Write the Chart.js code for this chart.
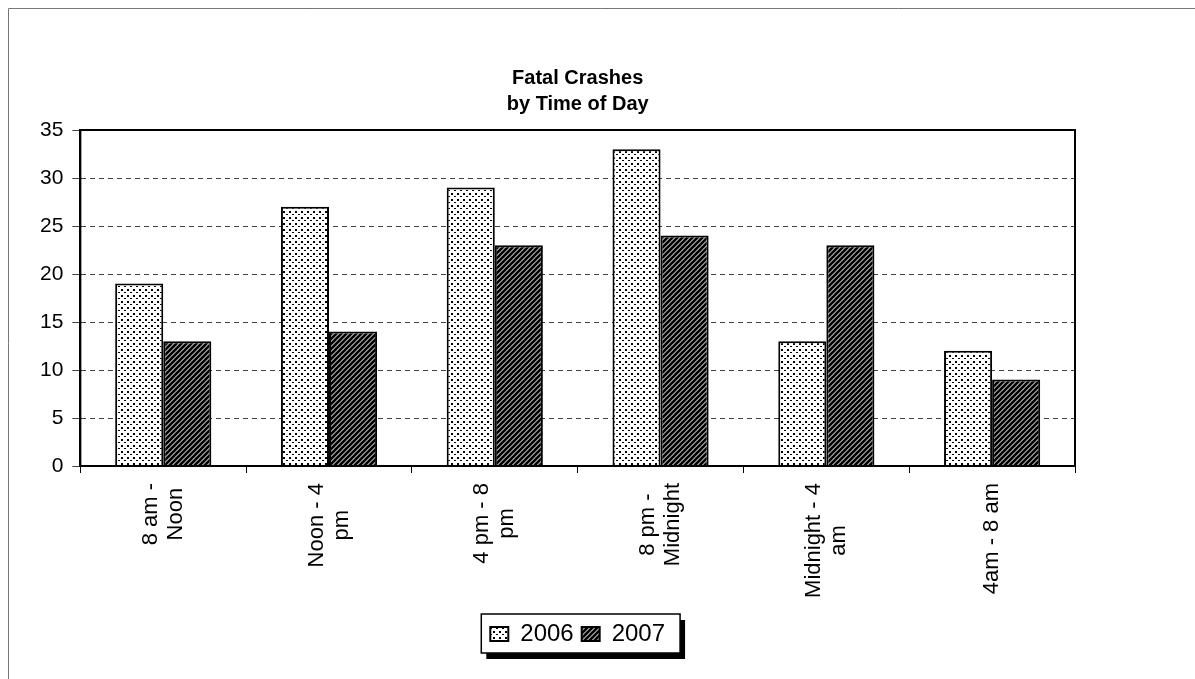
<!DOCTYPE html>
<html>
<head>
<meta charset="utf-8">
<script src="https://cdn.jsdelivr.net/npm/chart.js"></script>
<style>
  html, body { margin: 0; padding: 0; background: #fff; }
  #wrap { width: 1195px; height: 679px; }
</style>
</head>
<body>
<div id="wrap"><canvas id="crashChart" width="1195" height="679"></canvas></div>
<script>
// chart values
const timeSlots = [["8 am -", "Noon"], ["Noon - 4", "pm"], ["4 pm - 8", "pm"], ["8 pm -", "Midnight"], ["Midnight - 4", "am"], ["4am - 8 am"]];
const crashes2006 = [19, 27, 29, 33, 13, 12];
const crashes2007 = [13, 14, 23, 24, 23, 9];
const yTicks = [0, 5, 10, 15, 20, 25, 30, 35];

const labelFont = "22px 'Liberation Sans', Arial";

// dotted fill for 2006
function dotPattern() {
    let c = document.createElement("canvas");
    c.width = 6; c.height = 6;
    let g = c.getContext("2d");
    g.fillStyle = "#fff";
    g.fillRect(0, 0, 6, 6);
    g.fillStyle = "#000";
    g.fillRect(1, 1, 2, 2);
    g.fillRect(4, 4, 2, 1);
    return g.createPattern(c, "repeat");
}

// diagonal hatch for 2007
function hatchPattern() {
    let c = document.createElement("canvas");
    c.width = 5; c.height = 5;
    let g = c.getContext("2d");
    g.fillStyle = "#fff";
    g.fillRect(0, 0, 5, 5);
    g.strokeStyle = "#000";
    g.lineWidth = 2.8;
    g.beginPath();
    g.moveTo(-1, 6); g.lineTo(6, -1);
    g.moveTo(-1, 1); g.lineTo(1, -1);
    g.moveTo(4, 6); g.lineTo(6, 4);
    g.stroke();
    return g.createPattern(c, "repeat");
}

// x labels: rotated, lines centred on each other like the original
const xLabelPlugin = {
    id: "xLabels",
    afterDraw(chart) {
        let ctx = chart.ctx;
        let xs = chart.scales.x;
        let top = xs.top + 17;
        let lh = 25;
        ctx.save();
        ctx.font = labelFont;
        ctx.fillStyle = "#000";
        ctx.textAlign = "center";
        ctx.textBaseline = "middle";
        chart.data.labels.forEach((lbl, i) => {
            let lines = Array.isArray(lbl) ? lbl : [lbl];
            let w = Math.max(...lines.map(s => ctx.measureText(s).width));
            let x = xs.getPixelForValue(i);
            ctx.save();
            ctx.translate(x, top + w / 2);
            ctx.rotate(-Math.PI / 2);
            lines.forEach((s, j) => {
                ctx.fillText(s, 0, (j - (lines.length - 1) / 2) * lh);
            });
            ctx.restore();
        });
        ctx.restore();
    }
};

// plot frame + legend box with shadow + page edge lines
const framePlugin = {
    id: "frame",
    afterDraw(chart) {
        let ctx = chart.ctx;
        let a = chart.chartArea;
        ctx.save();
        ctx.strokeStyle = "#000";
        ctx.lineWidth = 2;
        ctx.strokeRect(a.left, a.top, a.right - a.left, a.bottom - a.top);

        let lg = chart.legend;
        let hb = lg.legendHitBoxes;
        let l = Math.min(...hb.map(b => b.left)) - 9;
        let r = Math.max(...hb.map(b => b.left + b.width)) + 15;
        let t = Math.min(...hb.map(b => b.top)) - 8;
        let btm = Math.max(...hb.map(b => b.top + b.height)) + 7;
        ctx.fillStyle = "#000";
        ctx.fillRect(l + 5, t + 6, r - l, btm - t);
        ctx.fillStyle = "#fff";
        ctx.fillRect(l, t, r - l, btm - t);
        ctx.lineWidth = 1.5;
        ctx.strokeRect(l, t, r - l, btm - t);
        lg.draw();

        ctx.strokeStyle = "#777";
        ctx.lineWidth = 1;
        ctx.beginPath();
        ctx.moveTo(8.5, 679); ctx.lineTo(8.5, 8.5); ctx.lineTo(1195, 8.5);
        ctx.stroke();
        ctx.restore();
    }
};

let ctx = document.getElementById("crashChart").getContext("2d");
let crashChart = new Chart(ctx, {
    type: "bar",
    data: {
        labels: timeSlots,
        datasets: [
            {
                label: "2006",
                data: crashes2006,
                backgroundColor: dotPattern(),
                borderColor: "#000",
                borderWidth: 2,
                borderSkipped: "bottom"
            },
            {
                label: "2007",
                data: crashes2007,
                backgroundColor: hatchPattern(),
                borderColor: "#000",
                borderWidth: 2,
                borderSkipped: "bottom"
            }
        ]
    },
    options: {
        responsive: false,
        animation: false,
        devicePixelRatio: 1,
        layout: { padding: { left: 31, right: 120, top: 65, bottom: 23 } },
        datasets: {
            bar: { categoryPercentage: 0.58, barPercentage: 1.0 }
        },
        scales: {
            x: {
                grid: { drawOnChartArea: false, offset: true, tickLength: 7, color: "#000" },
                border: { color: "#000", width: 2 },
                ticks: { display: false },
                afterFit(scale) {
                    scale.height = 148;
                }
            },
            y: {
                min: 0,
                max: 35,
                afterBuildTicks(axis) {
                    axis.ticks = yTicks.map(v => ({ value: v }));
                },
                grid: {
                    color: "#444",
                    lineWidth: 1,
                    tickLength: 8,
                    tickBorderDash: [0, 0]
                },
                border: { color: "#000", width: 2, dash: [5, 4] },
                ticks: {
                    color: "#000",
                    font: { family: "Liberation Sans, Arial", size: 21 },
                    padding: 9
                }
            }
        },
        plugins: {
            title: {
                display: true,
                fullSize: false,
                text: ["Fatal Crashes", "by Time of Day"],
                color: "#000",
                font: { family: "Liberation Sans, Arial", size: 20, weight: "bold", lineHeight: 1.3 },
                padding: { top: 0, bottom: 13 }
            },
            legend: {
                position: "bottom",
                fullSize: false,
                labels: {
                    color: "#000",
                    font: { family: "Liberation Sans, Arial", size: 24 },
                    boxWidth: 18,
                    boxHeight: 14,
                    padding: 8
                }
            },
            tooltip: { enabled: false }
        }
    },
    plugins: [xLabelPlugin, framePlugin]
});
</script>
</body>
</html>
